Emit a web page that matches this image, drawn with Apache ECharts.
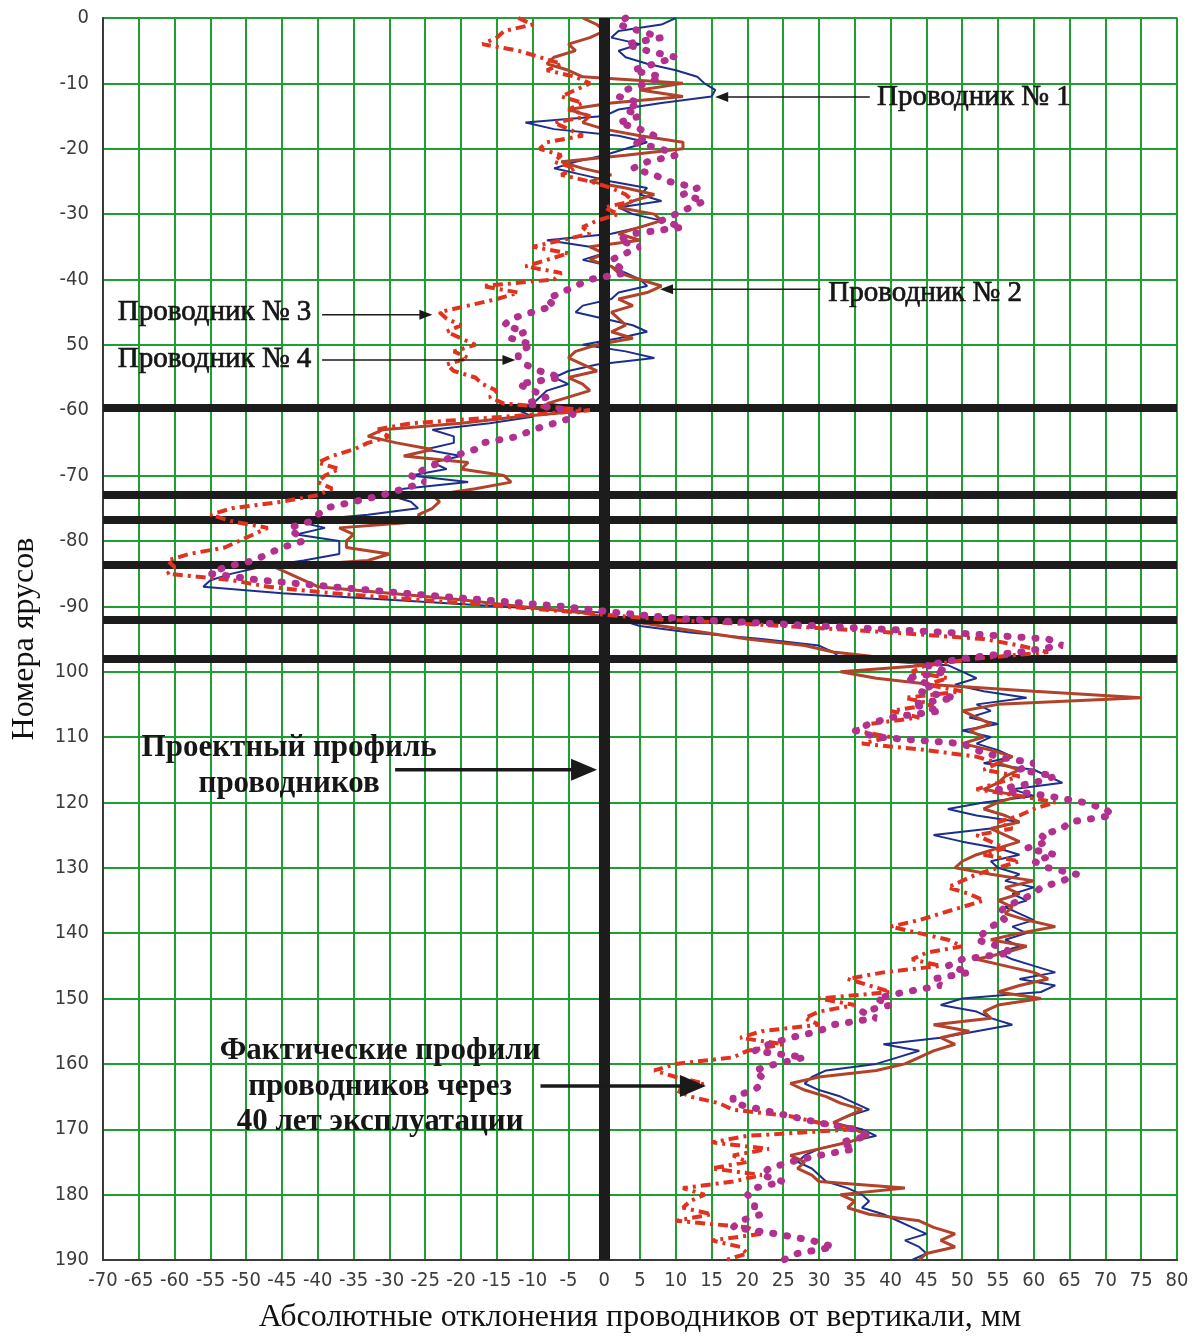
<!DOCTYPE html>
<html>
<head>
<meta charset="utf-8">
<script src="https://cdn.jsdelivr.net/npm/echarts@6/dist/echarts.min.js"></script>
<style>
  html, body { margin: 0; padding: 0; background: #ffffff; }
  #chart { width: 1198px; height: 1337px; }
</style>
</head>
<body>
<div id="chart"></div>
<script>
// Tier numbers of the shaft (0 at the top, 190 at the bottom)
const tiers = Array.from({ length: 191 }, (_, i) => i);

// Absolute deviation of each guide from the vertical, mm, one value per tier
const conductor1 = [
  10, 8, 2, 1, 5, 2, 3, 6, 10, 13,
  14, 15.5, 15, 8, 2, 0, -11, -7, 2, 6,
  3, 0, -4, -7, -3, 1, 6, 5, 8, 2,
  4, 8, 5, 1, -8, -2, 0, -3, 1, 3,
  5, 6, 2, 1, -3, -4, 0, 4, 6, 2,
  -3, 3, 7, -1, -5, -7, -5, -8, -9, -10,
  -12, -10, -16, -24, -21, -21, -25, -20, -24, -22,
  -27, -19, -28, -30, -27, -26, -33, -43, -39, -43,
  -37, -37, -37, -42, -48, -52, -55, -56, -45, -30,
  -15, 0, 2, 5, 12, 22, 30, 32, 33, 48,
  50, 52, 49, 53, 59, 52, 54, 51, 55, 50,
  54, 52, 55, 57, 53, 60, 62, 64, 57, 60,
  53, 48, 52, 58, 54, 46, 50, 55, 58, 54,
  55, 58, 56, 60, 57, 59, 56, 58, 60, 57,
  59, 56, 58, 55, 57, 60, 63, 58, 63, 61,
  50, 47, 52, 54, 57, 52, 47, 39, 44, 41,
  38, 31, 29, 28, 30, 33, 35, 37, 34, 32,
  36, 38, 34, 30, 28, 27, 29, 30, 31, 34,
  36, 37, 36, 39, 41, 43, 45, 42, 44, 45,
  43
];

const conductor2 = [
  -3, -1, 0, -2, -5, -4, -7, -8, -5, -3,
  11, 5, 11, 1, -5, -2, -3, 0, 5, 11,
  11, 3, -6, -3, 1, -2, 3, 7, 4, 2,
  7, 8, 5, 2, 5, -2, 0, -2, 1, 2,
  5, 8, 6, 2, 4, 1, 2, 3, 1, 4,
  -1, -4, -5, -3, -1, -5, -3, -2, -5, -8,
  -2, -12, -20, -31, -33, -29, -24, -28, -19, -20,
  -14, -13, -18, -24, -23, -24, -26, -25, -37, -35,
  -36, -36, -30, -33, -46, -44, -42, -40, -30, -20,
  -12, -3, 2, 8, 14, 20, 28, 32, 40, 45,
  33, 38, 46, 60, 75, 55, 50, 52, 54, 51,
  53, 50, 54, 57, 55, 58, 56, 55, 53, 58,
  55, 53, 56, 58, 54, 56, 58, 55, 52, 50,
  49, 54, 60, 56, 58, 55, 57, 56, 59, 63,
  58, 54, 59, 56, 52, 56, 60, 62, 58, 55,
  61, 55, 53, 54, 46, 51, 47, 49, 46, 44,
  42, 38, 30, 26, 28, 31, 33, 36, 34, 32,
  35, 37, 34, 30, 26, 28, 27, 29, 30, 42,
  33, 35, 34, 37, 44, 46, 49, 47, 49, 45,
  44
];

const conductor3 = [
  -12, -10, -14, -15, -17, -12, -9, -6, -8, -4,
  -2, -4, -6, -3, -5, -2, -7, -5, -3, -8,
  -9, -6, -7, -4, -6, -2, 1, 3, 4, 0,
  2, -1, -3, -2, -6, -10, -5, -8, -11, -6,
  -7, -17, -12, -15, -19, -23, -22, -20, -22, -20,
  -18, -21, -19, -22, -21, -18, -17, -15, -16, -14,
  -2, -14, -27, -32, -30, -33, -35, -38, -40, -37,
  -39, -40, -38, -40, -45, -52, -55, -52, -47, -49,
  -51, -53, -58, -61, -60, -61, -52, -47, -38, -26,
  -14, -3, 8, 25, 40, 53, 58, 62, 52, 45,
  43, 48, 45, 50, 42, 46, 40, 44, 37, 35,
  40, 36, 45, 52, 55, 53, 58, 55, 52, 58,
  63, 60, 58, 55, 57, 52, 54, 56, 53, 58,
  55, 52, 50, 48, 51, 53, 50, 47, 44, 40,
  44, 48, 50, 45, 43, 47, 39, 34, 37, 40,
  30, 35, 30, 28, 30, 22, 19, 25, 20, 18,
  10, 7, 10, 14, 10, 12, 16, 18, 26, 30,
  35, 20, 15, 23, 18, 20, 15, 22, 18, 11,
  14, 12, 11, 15, 10, 20, 22, 15, 19, 20,
  17
];

const conductor4 = [
  3, 2, 5, 8, 3, 6, 10, 7, 4, 8,
  6, 3, 2, 5, 3, 5, 2, 5, 7, 4,
  8, 10, 6, 4, 7, 9, 13, 11, 14, 12,
  10, 8, 11, 4, 2, 5, 3, 1, 2, 3,
  -2, -4, -6, -8, -7, -10, -13, -14, -11, -13,
  -10, -12, -12, -11, -9, -6, -12, -10, -8, -11,
  -5, -4, -7, -10, -12, -17, -18, -21, -23, -25,
  -27, -25, -28, -31, -35, -39, -40, -41, -44, -43,
  -42, -45, -47, -49, -53, -55, -48, -38, -28, -17,
  -6, 2, 12, 30, 48, 62, 64, 58, 50, 45,
  48, 42, 46, 44, 49, 43, 47, 40, 37, 35,
  38, 50, 52, 55, 60, 58, 63, 60, 55, 62,
  67, 70, 71, 65, 64, 61, 62, 59, 63, 60,
  62, 66, 64, 61, 60, 58, 56, 55, 56, 54,
  53, 52, 55, 57, 50, 48, 51, 46, 47, 42,
  38, 40, 36, 38, 32, 30, 26, 23, 21, 28,
  24, 21, 22, 22, 21, 18, 18, 22, 26, 30,
  35, 37, 33, 35, 30, 26, 23, 22, 25, 21,
  20, 21, 21, 22, 19, 18, 24, 29, 32, 27,
  25
];

// Tick labels of the tier axis, one per 10 tiers
const tierTickLabels = [
  '0', '-10', '-20', '-30', '-40', '50', '-60', '-70', '-80', '-90',
  '100', '110', '120', '130', '140', '150', '160', '170', '180', '190'
];

// Tiers marked by heavy horizontal bars, and the design profile position
const markedTiers = [59.7, 72.9, 76.7, 83.7, 92, 98];
const designProfile = 0;

const seriesNames = ['Проводник № 1', 'Проводник № 2', 'Проводник № 3', 'Проводник № 4'];

const chart = echarts.init(document.getElementById('chart'), null, { renderer: 'canvas' });

const toPoints = arr => arr.map((v, i) => [v, tiers[i]]);

const tickFont = '"Liberation Sans Narrow", "DejaVu Sans Condensed", "Arial Narrow", sans-serif';
const serif = '"Liberation Serif", "DejaVu Serif", serif';

chart.setOption({
  animation: false,
  backgroundColor: '#ffffff',
  grid: {
    left: 103, right: 21, top: 18, bottom: 77,
    containLabel: false, outerBoundsMode: 'none',
    show: true, borderColor: '#8a8a8a', borderWidth: 1.5
  },
  xAxis: {
    type: 'value',
    min: -70, max: 80, interval: 5,
    name: 'Абсолютные отклонения проводников от вертикали, мм',
    nameLocation: 'middle', nameGap: 42,
    nameTextStyle: { fontFamily: serif, fontSize: 32, color: '#111' },
    axisLine: { show: true, onZero: false, lineStyle: { color: '#3a3a3a', width: 2 } },
    axisTick: { show: false },
    axisLabel: {
      interval: 0, hideOverlap: false, showMinLabel: true, showMaxLabel: true,
      margin: 11, fontFamily: tickFont, fontSize: 20, color: '#3c3c3c'
    },
    splitLine: { show: true, lineStyle: { color: '#1f9e32', width: 2 } }
  },
  yAxis: {
    type: 'value',
    inverse: true,
    min: 0, max: 190, interval: 10,
    name: 'Номера ярусов',
    nameLocation: 'middle', nameGap: 62, nameRotate: 90,
    nameTextStyle: { fontFamily: serif, fontSize: 32, color: '#111' },
    axisLine: { show: true, onZero: false, lineStyle: { color: '#3a3a3a', width: 2 } },
    axisTick: { show: false },
    axisLabel: {
      margin: 14, fontFamily: tickFont, fontSize: 20, color: '#3c3c3c',
      formatter: v => tierTickLabels[Math.round(v / 10)]
    },
    splitLine: { show: true, lineStyle: { color: '#1f9e32', width: 2 } }
  },
  series: [
    {
      name: seriesNames[0], type: 'line', data: toPoints(conductor1),
      showSymbol: false, z: 3,
      lineStyle: { color: '#1d2f8e', width: 2 }
    },
    {
      name: seriesNames[1], type: 'line', data: toPoints(conductor2),
      showSymbol: false, z: 4,
      lineStyle: { color: '#b3422a', width: 3 }
    },
    {
      name: seriesNames[2], type: 'line', data: toPoints(conductor3),
      showSymbol: false, z: 5,
      lineStyle: { color: '#e2311f', width: 4, type: [10, 5, 3, 5] }
    },
    {
      name: seriesNames[3], type: 'line', data: toPoints(conductor4),
      showSymbol: false, z: 6,
      lineStyle: { color: '#b3318e', width: 7, type: [1, 13], cap: 'round' }
    },
    {
      name: 'levels', type: 'line', data: [[designProfile, 0]],
      showSymbol: false, z: 10, silent: true,
      lineStyle: { opacity: 0 },
      markLine: {
        silent: true, symbol: 'none', animation: false,
        label: { show: false },
        data: [
          ...markedTiers.map(t => ({ yAxis: t, lineStyle: { color: '#1c1c1c', width: 8, type: 'solid' } })),
          { xAxis: designProfile, lineStyle: { color: '#1c1c1c', width: 11, type: 'solid' } }
        ]
      }
    }
  ]
});

// Callouts: text blocks with arrows pointing at the profiles (positions in data units)
const callouts = [
  { text: 'Проводник № 1', at: [38.1, 12.1], align: 'left', bold: false, tail: [37.1, 12.1], tip: [15.5, 12.1], heavy: false },
  { text: 'Проводник № 2', at: [31.3, 42.1], align: 'left', bold: false, tail: [30.2, 41.5], tip: [7.8, 41.5], heavy: false },
  { text: 'Проводник № 3', at: [-40.9, 45.0], align: 'right', bold: false, tail: [-39.4, 45.4], tip: [-24.0, 45.4], heavy: false },
  { text: 'Проводник № 4', at: [-40.9, 52.3], align: 'right', bold: false, tail: [-39.4, 52.3], tip: [-12.4, 52.3], heavy: false },
  { text: 'Проектный профиль\nпроводников', at: [-44.0, 114.4], align: 'center', bold: true, tail: [-29.2, 115.0], tip: [-1.0, 115.0], heavy: true },
  { text: 'Фактические профили\nпроводников через\n40 лет эксплуатации', at: [-31.3, 163.5], align: 'center', bold: true, tail: [-8.9, 163.4], tip: [14.2, 163.4], heavy: true }
];

const px = p => chart.convertToPixel({ xAxisIndex: 0, yAxisIndex: 0 }, p);
const elements = [];
callouts.forEach(c => {
  const a = px(c.at), t0 = px(c.tail), t1 = px(c.tip);
  elements.push({
    type: 'text', z: 50,
    style: {
      text: c.text, x: a[0], y: a[1],
      font: (c.bold ? 'bold 31px ' : '29px ') + serif,
      fill: '#161616',
      stroke: c.bold ? null : '#161616', lineWidth: c.bold ? 0 : 0.7,
      textAlign: c.align, textVerticalAlign: 'middle',
      align: c.align, verticalAlign: 'middle',
      lineHeight: 35.5
    }
  });
  const dir = Math.sign(t1[0] - t0[0]);
  const L = c.heavy ? 26 : 13, W = c.heavy ? 22 : 10;
  elements.push({
    type: 'line', z: 50,
    shape: { x1: t0[0], y1: t0[1], x2: t1[0] - dir * (L - 2), y2: t1[1] },
    style: { stroke: '#1a1a1a', lineWidth: c.heavy ? 3.5 : 1.5 }
  });
  elements.push({
    type: 'polygon', z: 50,
    shape: { points: [[t1[0], t1[1]], [t1[0] - dir * L, t1[1] - W / 2], [t1[0] - dir * L, t1[1] + W / 2]] },
    style: { fill: '#1a1a1a' }
  });
});
chart.setOption({ graphic: { elements } });
</script>
</body>
</html>
